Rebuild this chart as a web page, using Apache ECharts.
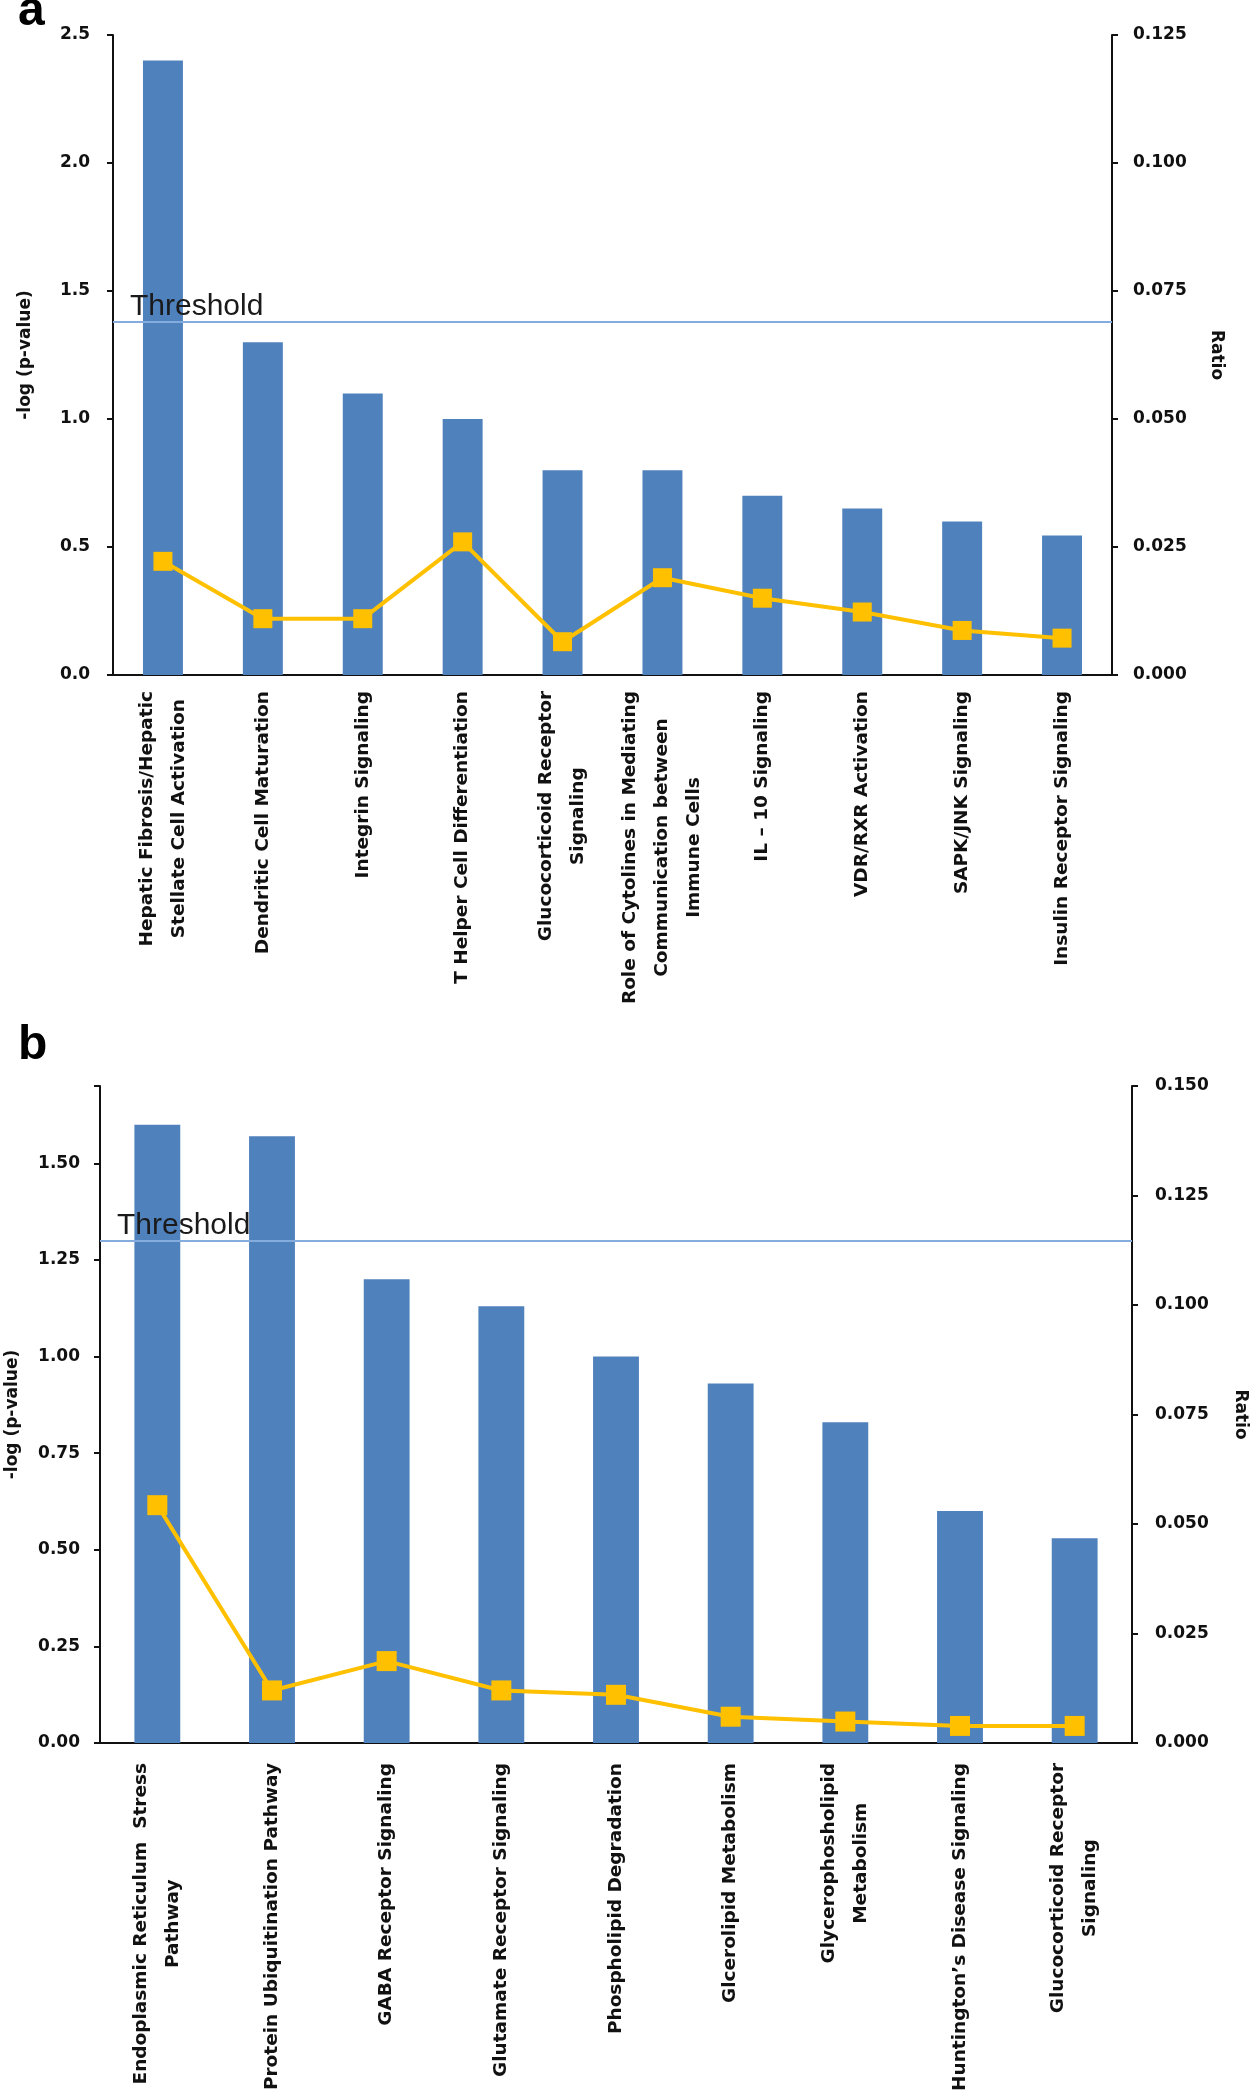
<!DOCTYPE html>
<html>
<head>
<meta charset="utf-8">
<title>Pathway enrichment</title>
<script src="https://cdn.jsdelivr.net/npm/echarts@6/dist/echarts.min.js"></script>
<style>
html, body { margin: 0; padding: 0; background: #fff; }
#chart { width: 1252px; height: 2100px; }
</style>
</head>
<body>
<div id="chart"></div>
<script>
// panel a
const catsA = [
  'Hepatic Fibrosis/Hepatic\nStellate Cell Activation',
  'Dendritic Cell Maturation',
  'Integrin Signaling',
  'T Helper Cell Differentiation',
  'Glucocorticoid Receptor\nSignaling',
  'Role of Cytolines in Mediating\nCommunication between\nImmune Cells',
  'IL \u2013 10 Signaling',
  'VDR/RXR Activation',
  'SAPK/JNK Signaling',
  'Insulin Receptor Signaling'
]
const pvalA = [2.4, 1.3, 1.1, 1.0, 0.8, 0.8, 0.7, 0.65, 0.6, 0.545]
const ratioA = [0.0222, 0.011, 0.011, 0.026, 0.0065, 0.019, 0.015, 0.0123, 0.0087, 0.0072]
const thresholdA = 1.38
const leftTicksA = { min: 0, max: 2.5, interval: 0.5 }
const rightTicksA = { min: 0, max: 0.125, interval: 0.025 }

// panel b
const catsB = [
  'Endoplasmic Reticulum  Stress\nPathway',
  'Protein Ubiquitination Pathway',
  'GABA Receptor Signaling',
  'Glutamate Receptor Signaling',
  'Phospholipid Degradation',
  'Glcerolipid Metabolism',
  'Glycerophosholipid\nMetabolism',
  'Huntington\u2019s Disease Signaling',
  'Glucocorticoid Receptor\nSignaling'
]
const pvalB = [1.6, 1.57, 1.2, 1.13, 1.0, 0.93, 0.83, 0.6, 0.53]
const ratioB = [0.0543, 0.012, 0.0187, 0.012, 0.011, 0.006, 0.0049, 0.0039, 0.0039]
const thresholdB = 1.3
const leftTicksB = { min: 0, max: 1.7, interval: 0.25 }
const rightTicksB = { min: 0, max: 0.15, interval: 0.025 }

const FONT = 'DejaVu Sans'
const INK = '#111'
const BLUE = '#4F81BD'
const GOLD = '#FFC000'

const chart = echarts.init(document.getElementById('chart'), null, { renderer: 'canvas' })

function valueAxis(grid, side, ticks, digits, name, nameGap, margin) {
  return {
    gridIndex: grid,
    type: 'value',
    position: side,
    min: ticks.min,
    max: ticks.max,
    interval: ticks.interval,
    name: name,
    nameLocation: 'middle',
    nameGap: nameGap,
    nameRotate: side === 'right' ? -90 : 90,
    nameTextStyle: { fontFamily: FONT, fontWeight: 'bold', fontSize: 17, color: INK },
    axisLine: { show: true, lineStyle: { color: INK, width: 2 } },
    axisTick: { show: true, length: 6, lineStyle: { color: INK, width: 2 } },
    axisLabel: {
      margin: margin,
      fontFamily: FONT,
      fontWeight: 'bold',
      fontSize: 17,
      color: INK,
      // hide the label at a max that is not on the tick grid
      formatter: v => {
        const k = v / ticks.interval
        return Math.abs(k - Math.round(k)) < 1e-6 ? v.toFixed(digits) : ''
      }
    },
    splitLine: { show: false }
  }
}

function catAxis(grid, cats, margin) {
  return {
    gridIndex: grid,
    type: 'category',
    data: cats,
    axisLine: { show: true, lineStyle: { color: INK, width: 2 } },
    axisTick: { show: false },
    axisLabel: {
      interval: 0,
      rotate: 90,
      margin: margin,
      formatter: v => v.split('\n').map(s => '{c|' + s + '}').join('\n'),
      rich: {
        c: { align: 'center', fontFamily: FONT, fontWeight: 'bold', fontSize: 18.5, lineHeight: 32, color: INK }
      }
    }
  }
}

function threshold(value) {
  return {
    silent: true,
    symbol: ['none', 'none'],
    data: [{ yAxis: value }],
    lineStyle: { color: '#85ACDF', width: 2, type: 'solid' },
    label: {
      show: true,
      position: 'insideStartTop',
      formatter: 'Threshold',
      distance: [17, 0],
      fontFamily: 'Liberation Sans',
      fontSize: 30,
      color: '#1a1a1a'
    },
    emphasis: { disabled: true }
  }
}

const options = {
  backgroundColor: '#fff',
  animation: false,
  grid: [
    { left: 113, top: 35, width: 999, height: 640, outerBoundsMode: 'none' },
    { left: 100, top: 1086, width: 1032, height: 657, outerBoundsMode: 'none' }
  ],
  xAxis: [catAxis(0, catsA, 16), catAxis(1, catsB, 20)],
  yAxis: [
    valueAxis(0, 'left', leftTicksA, 1, '-log (p-value)', 79, 23),
    valueAxis(0, 'right', rightTicksA, 3, 'Ratio', 96, 21),
    valueAxis(1, 'left', leftTicksB, 2, '-log (p-value)', 79, 20),
    valueAxis(1, 'right', rightTicksB, 3, 'Ratio', 100, 23)
  ],
  series: [
    {
      type: 'bar', xAxisIndex: 0, yAxisIndex: 0, data: pvalA,
      barWidth: '40%', itemStyle: { color: BLUE },
      markLine: threshold(thresholdA)
    },
    {
      type: 'line', xAxisIndex: 0, yAxisIndex: 1, data: ratioA,
      symbol: 'rect', symbolSize: 19, z: 5,
      lineStyle: { color: GOLD, width: 4 }, itemStyle: { color: GOLD }
    },
    {
      type: 'bar', xAxisIndex: 1, yAxisIndex: 2, data: pvalB,
      barWidth: '40%', itemStyle: { color: BLUE },
      markLine: threshold(thresholdB)
    },
    {
      type: 'line', xAxisIndex: 1, yAxisIndex: 3, data: ratioB,
      symbol: 'rect', symbolSize: 20, z: 5,
      lineStyle: { color: GOLD, width: 4 }, itemStyle: { color: GOLD }
    }
  ],
  graphic: [
    { type: 'text', left: 18, top: -12, style: { text: 'a', font: 'bold 48px "Liberation Sans"', fill: '#000' } },
    { type: 'text', left: 18, top: 1022, style: { text: 'b', font: 'bold 48px "Liberation Sans"', fill: '#000' } }
  ]
}

chart.setOption(options)
</script>
</body>
</html>
